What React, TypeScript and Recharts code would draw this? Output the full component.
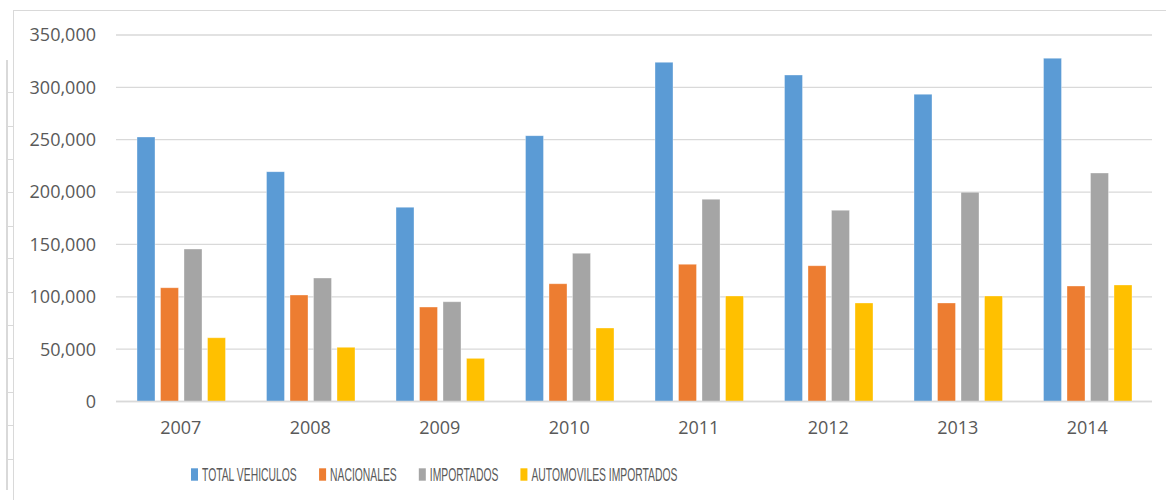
import { BarChart, Bar, XAxis, YAxis, CartesianGrid, Legend } from "recharts";

const years = ["2007", "2008", "2009", "2010", "2011", "2012", "2013", "2014"];
const totalVehiculos = [252600, 219500, 185500, 253900, 323900, 311800, 293400, 327800];
const nacionales = [108700, 101700, 90200, 112500, 131000, 129700, 94100, 110300];
const importados = [145600, 117900, 95300, 141500, 193100, 182600, 199800, 218200];
const automovilesImportados = [60900, 51700, 41200, 70200, 100800, 94100, 100800, 111300];
const yTicks = [0, 50000, 100000, 150000, 200000, 250000, 300000, 350000];

const series = [
  { key: "total", name: "TOTAL VEHICULOS", color: "#5B9BD5" },
  { key: "nac", name: "NACIONALES", color: "#ED7D31" },
  { key: "imp", name: "IMPORTADOS", color: "#A5A5A5" },
  { key: "auto", name: "AUTOMOVILES IMPORTADOS", color: "#FFC000" },
];

const data = years.map((year, i) => ({
  year,
  total: totalVehiculos[i],
  nac: nacionales[i],
  imp: importados[i],
  auto: automovilesImportados[i],
}));

const TEXT = "#595959";
const GRID = "#D9D9D9";
const FONT = "'Open Sans', sans-serif";

// legend text in the original is very condensed, so squeeze it horizontally
const LEGEND_FONT = "18px 'Liberation Sans'";
const SQUEEZE = 0.575;
let ctx: CanvasRenderingContext2D | null = null;
function textWidth(t: string) {
  if (!ctx) ctx = document.createElement("canvas").getContext("2d");
  if (!ctx) return t.length * 6.5;
  ctx.font = LEGEND_FONT;
  return ctx.measureText(t).width * SQUEEZE;
}

function LegendContent() {
  let x = 191;
  const items = series.map((s) => {
    const w = textWidth(s.name);
    const item = (
      <g key={s.key}>
        <rect x={x} y={8.3} width={7} height={12.4} fill={s.color} />
        <text
          transform={`translate(${x + 11},20.7) scale(${SQUEEZE},1)`}
          fill={TEXT}
          fontFamily="'Liberation Sans', sans-serif"
          fontSize={18}
        >
          {s.name}
        </text>
      </g>
    );
    x += 11 + w + 22;
    return item;
  });
  return (
    <svg width={1166} height={30} style={{ display: "block" }}>
      {items}
    </svg>
  );
}

// little row-header like ruler on the far left of the screenshot
const rulerTicks = [92, 126, 159, 192, 226, 258, 292, 325, 358, 392, 425, 459];

export default function App() {
  return (
    <div style={{ position: "relative", width: 1166, height: 500, background: "#fff", overflow: "hidden" }}>
      <style>{"body{margin:0}"}</style>
      <div style={{ position: "absolute", left: 13, top: 10, right: 0, height: 1.3, background: GRID }} />
      <div style={{ position: "absolute", left: 13, top: 10, bottom: 0, width: 1.3, background: GRID }} />
      <div style={{ position: "absolute", left: 6, top: 60, height: 430, width: 1.5, background: GRID }} />
      {rulerTicks.map((t) => (
        <div key={t} style={{ position: "absolute", left: 6, top: t, width: 7, height: 1.3, background: GRID }} />
      ))}
      <BarChart
        width={1166}
        height={500}
        data={data}
        margin={{ top: 35, right: 14, left: 0, bottom: 68.5 }}
        barSize={18}
        barGap={5.5}
        style={{ position: "absolute", left: 0, top: 0 }}
      >
        <CartesianGrid vertical={false} stroke={GRID} strokeWidth={1.3} />
        <XAxis
          dataKey="year"
          height={30}
          axisLine={{ stroke: GRID, strokeWidth: 1.3 }}
          tickLine={false}
          tickSize={0}
          tickMargin={20}
          tick={{ fill: TEXT, fontSize: 18, fontFamily: FONT }}
        />
        <YAxis
          width={116}
          domain={[0, 350000]}
          ticks={yTicks}
          axisLine={false}
          tickLine={false}
          tickSize={0}
          tickMargin={20}
          tick={{ fill: TEXT, fontSize: 18, fontFamily: FONT }}
          tickFormatter={(v: number) => v.toLocaleString("en-US")}
        />
        <Legend
          layout="horizontal"
          verticalAlign="middle"
          align="center"
          wrapperStyle={{ left: 0, top: 460, width: 1166 }}
          content={() => <LegendContent />}
        />
        {series.map((s) => (
          <Bar
            key={s.key}
            dataKey={s.key}
            name={s.name}
            fill={s.color}
            stroke="#ffffff"
            strokeOpacity={0.35}
            strokeWidth={1}
            isAnimationActive={false}
          />
        ))}
      </BarChart>
    </div>
  );
}
